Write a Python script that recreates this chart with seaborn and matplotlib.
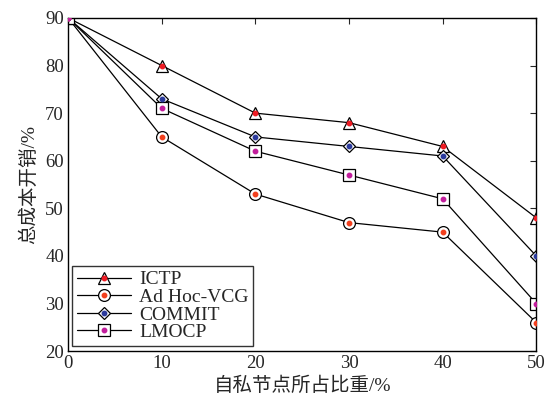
import numpy as np
import pandas as pd
import seaborn as sns
import matplotlib
matplotlib.use("Agg")
import matplotlib.pyplot as plt
from matplotlib.legend_handler import HandlerTuple

# data
ratio = [0, 10, 20, 30, 40, 50]
ictp = [90, 80, 70, 68, 63, 48]
vcg = [90, 65, 53, 47, 45, 26]
commit = [90, 73, 65, 63, 61, 40]
lmocp = [90, 71, 62, 57, 52, 30]
names = ["ICTP", "Ad Hoc-VCG", "COMMIT", "LMOCP"]

df = pd.DataFrame({
    "ratio": ratio * 4,
    "cost": ictp + vcg + commit + lmocp,
    "method": sum([[n] * len(ratio) for n in names], []),
})

sns.set_style("white")
plt.rcParams["font.family"] = ["Liberation Serif", "Noto Sans CJK SC"]
plt.rcParams["xtick.direction"] = "in"
plt.rcParams["ytick.direction"] = "in"

marks = {"ICTP": "^", "Ad Hoc-VCG": "o", "COMMIT": "D", "LMOCP": "s"}
sizes = {"ICTP": 9, "Ad Hoc-VCG": 8.5, "COMMIT": 6.5, "LMOCP": 8.5}
dots = {"ICTP": "#ee1c24", "Ad Hoc-VCG": "#f2401e", "COMMIT": "#2b3a9c", "LMOCP": "#c21e9c"}

fig = plt.figure(figsize=(5.54, 3.99), dpi=100)
ax = fig.add_axes([0.123, 0.12, 0.845, 0.835])

handles = []
for n in names:
    sub = df[df["method"] == n]
    sns.lineplot(data=sub, x="ratio", y="cost", ax=ax, color="black", lw=0.9,
                 marker=marks[n], markersize=sizes[n], markerfacecolor="white",
                 markeredgecolor="black", markeredgewidth=0.9, legend=False)
    ln = ax.lines[-1]
    d = ax.plot(sub["ratio"], sub["cost"], ls="none", marker="o", markersize=3.2,
                color=dots[n], zorder=5)[0]
    handles.append((ln, d))

ax.set_xlim(0, 50)
ax.set_ylim(20, 90)
ax.set_xticks(ratio)
ax.set_yticks(range(20, 91, 10))
ax.tick_params(top=True, right=True, length=4, width=0.8, labelsize=13.5, pad=3)
for s in ax.spines.values():
    s.set_color("black")
    s.set_linewidth(1.0)

ax.set_xlabel("自私节点所占比重/%", fontsize=14, labelpad=3)
ax.set_ylabel("总成本开销/%", fontsize=14, labelpad=5)

leg = ax.legend(handles, names, handler_map={tuple: HandlerTuple(ndivide=1, pad=0)},
                loc="lower left", bbox_to_anchor=(0.008, 0.015), fontsize=14,
                frameon=True, fancybox=False, edgecolor="black", handlelength=2.8,
                borderpad=0.25, labelspacing=0.0, handletextpad=0.4, borderaxespad=0)
leg.get_frame().set_linewidth(1.0)

fig.savefig("out.png", dpi=100)
